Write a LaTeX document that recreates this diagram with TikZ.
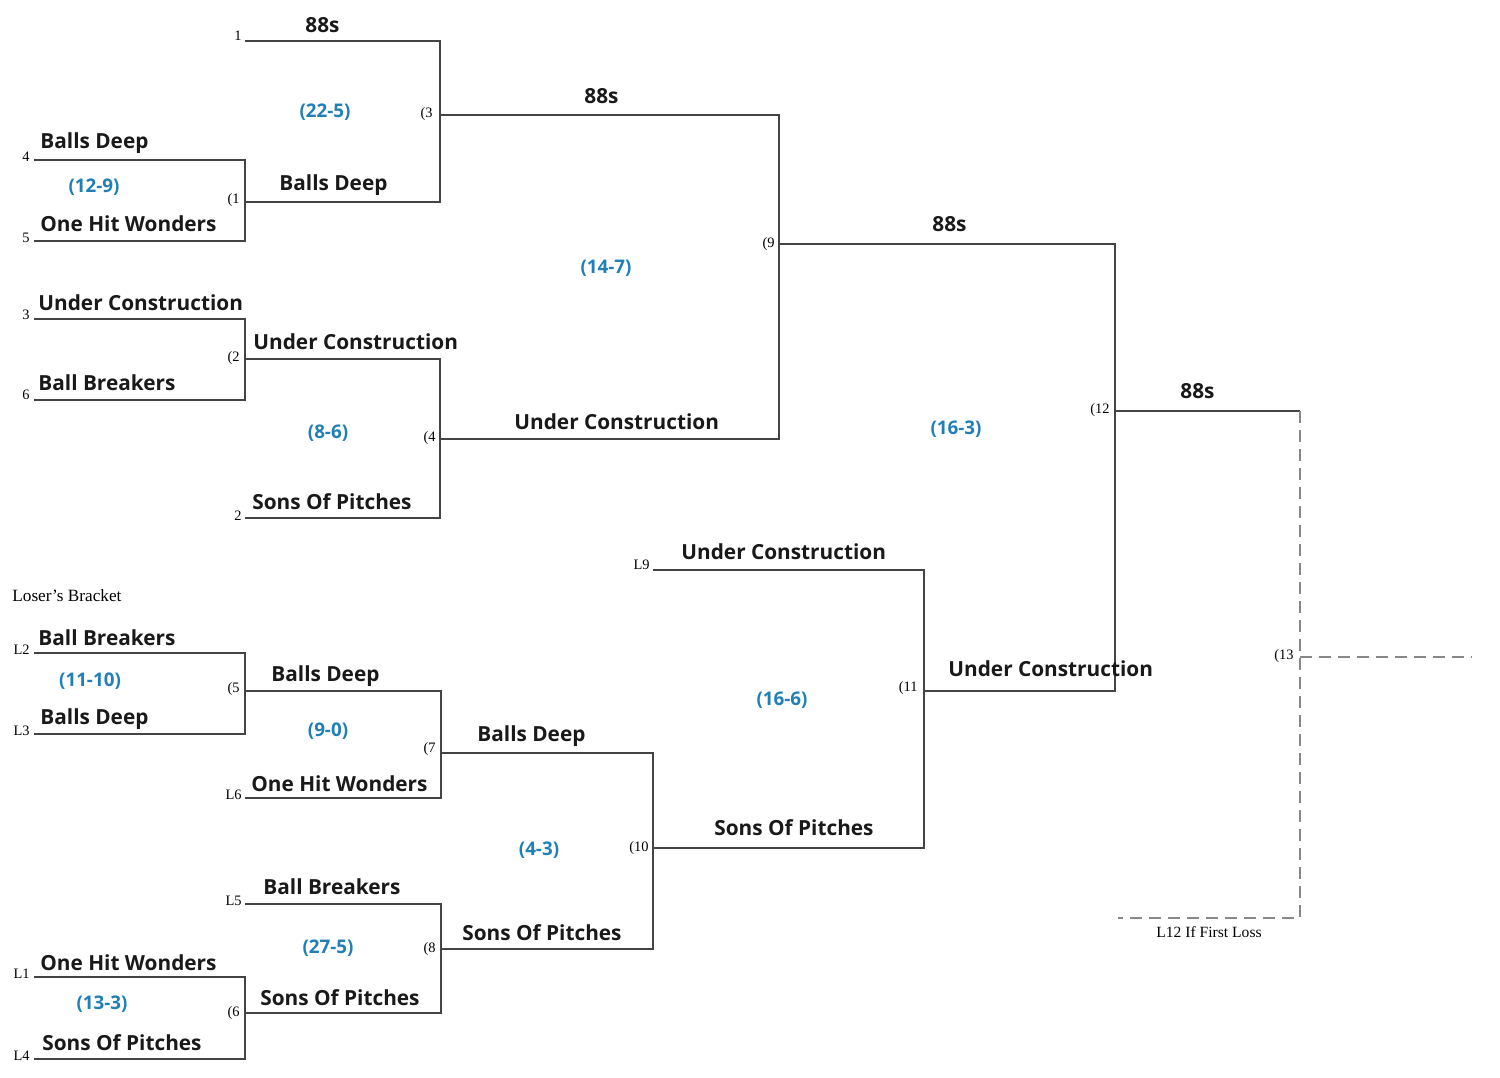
\documentclass[tikz,border=0pt]{standalone}
\usepackage{fontspec}
\setmainfont{Liberation Serif}
\newfontfamily\teamfont{Open Sans}
\definecolor{scoreblue}{HTML}{1F7FB6}
\definecolor{linegray}{HTML}{444444}
\definecolor{dashgray}{HTML}{888888}
\begin{document}
\begin{tikzpicture}[x=0.5pt,y=-0.5pt,
  team/.style={anchor=west,inner sep=0pt,yshift=-0.5pt,font=\teamfont\bfseries\fontsize{10.4}{12}\selectfont,text=black!90},
  score/.style={inner sep=0pt,yshift=-0.6pt,font=\teamfont\bfseries\fontsize{9.4}{11}\selectfont,text=scoreblue},
  seed/.style={anchor=east,inner sep=0pt,font=\fontsize{7.2}{8}\selectfont},
  bline/.style={draw=linegray,line width=0.55pt},
  dline/.style={draw=dashgray,line width=0.7pt,dash pattern=on 6pt off 3.5pt}]
\useasboundingbox (0,0) rectangle (1500,1077);
% ---------- winners bracket coordinates
\coordinate (s1a) at (245,41);   \coordinate (s1b) at (440,41);
\coordinate (s4a) at (34,160);   \coordinate (s4b) at (245,160);
\coordinate (s5a) at (34,241);   \coordinate (s5b) at (245,241);
\coordinate (g1a) at (245,202);  \coordinate (g1b) at (440,202);
\coordinate (g3a) at (440,115);  \coordinate (g3b) at (779,115);
\coordinate (s3a) at (34,319);   \coordinate (s3b) at (245,319);
\coordinate (s6a) at (34,400);   \coordinate (s6b) at (245,400);
\coordinate (g2a) at (245,359);  \coordinate (g2b) at (440,359);
\coordinate (s2a) at (245,518);  \coordinate (s2b) at (440,518);
\coordinate (g4a) at (440,439);  \coordinate (g4b) at (779,439);
\coordinate (g9a) at (779,244);  \coordinate (g9b) at (1115,244);
\coordinate (g12a) at (1115,411); \coordinate (g12b) at (1300,411);
\coordinate (g11a) at (924,691); \coordinate (g11b) at (1115,691);
% ---------- losers bracket coordinates
\coordinate (l2a) at (34,653);   \coordinate (l2b) at (245,653);
\coordinate (l3a) at (34,734);   \coordinate (l3b) at (245,734);
\coordinate (g5a) at (245,691);  \coordinate (g5b) at (441,691);
\coordinate (l6a) at (245,798);  \coordinate (l6b) at (441,798);
\coordinate (g7a) at (441,753);  \coordinate (g7b) at (653,753);
\coordinate (l5a) at (245,904);  \coordinate (l5b) at (441,904);
\coordinate (l1a) at (34,977);   \coordinate (l1b) at (245,977);
\coordinate (l4a) at (34,1059);  \coordinate (l4b) at (245,1059);
\coordinate (g6a) at (245,1013); \coordinate (g6b) at (441,1013);
\coordinate (g8a) at (441,949);  \coordinate (g8b) at (653,949);
\coordinate (g10a) at (653,848); \coordinate (g10b) at (924,848);
\coordinate (l9a) at (653,570);  \coordinate (l9b) at (924,570);
% dashed final
\coordinate (g13) at (1300,657); \coordinate (g13b) at (1472,657);
\coordinate (d1) at (1300,918);  \coordinate (d2) at (1118,918);
% ---------- lines
\draw[bline] (s1a) -- (s1b) -- (g1b) -- (g1a);
\draw[bline] (s4a) -- (s4b) -- (s5b) -- (s5a);
\draw[bline] (g3a) -- (g3b) -- (g4b) -- (g4a);
\draw[bline] (s3a) -- (s3b) -- (s6b) -- (s6a);
\draw[bline] (g2a) -- (g2b) -- (s2b) -- (s2a);
\draw[bline] (g9a) -- (g9b) -- (g11b) -- (g11a);
\draw[bline] (g12a) -- (g12b);
\draw[bline] (l2a) -- (l2b) -- (l3b) -- (l3a);
\draw[bline] (g5a) -- (g5b) -- (l6b) -- (l6a);
\draw[bline] (l1a) -- (l1b) -- (l4b) -- (l4a);
\draw[bline] (l5a) -- (l5b) -- (g6b) -- (g6a);
\draw[bline] (g7a) -- (g7b) -- (g8b) -- (g8a);
\draw[bline] (l9a) -- (l9b) -- (g10b) -- (g10a);
\draw[dline] (g12b) -- (d1) -- (d2);
\draw[dline] (g13) -- (g13b);
% ---------- team names
\node[team] (t1) at (305,24) {88s};
\node[team] (t2) at (40,142) {Balls Deep};
\node[team] (t3) at (40,223) {One Hit Wonders};
\node[team] (t4) at (279,184) {Balls Deep};
\node[team] (t5) at (584,95) {88s};
\node[team] (t6) at (38,302) {Under Construction};
\node[team] (t7) at (38,382) {Ball Breakers};
\node[team] (t8) at (253,341) {Under Construction};
\node[team] (t9) at (514,421) {Under Construction};
\node[team] (t10) at (252,501) {Sons Of Pitches};
\node[team] (t11) at (932,223) {88s};
\node[team] (t12) at (1180,390) {88s};
\node[team] (t13) at (681,551) {Under Construction};
\node[team] (t14) at (948,668) {Under Construction};
\node[team] (t15) at (714,827) {Sons Of Pitches};
\node[team] (t16) at (38,637) {Ball Breakers};
\node[team] (t17) at (40,718) {Balls Deep};
\node[team] (t18) at (271,675) {Balls Deep};
\node[team] (t19) at (251,783) {One Hit Wonders};
\node[team] (t20) at (477,735) {Balls Deep};
\node[team] (t21) at (263,886) {Ball Breakers};
\node[team] (t22) at (462,932) {Sons Of Pitches};
\node[team] (t23) at (40,962) {One Hit Wonders};
\node[team] (t24) at (260,997) {Sons Of Pitches};
\node[team] (t25) at (42,1042) {Sons Of Pitches};
% ---------- scores
\node[score] (c1) at (325,111) {(22-5)};
\node[score] (c2) at (94,186) {(12-9)};
\node[score] (c3) at (606,267) {(14-7)};
\node[score] (c4) at (328,432) {(8-6)};
\node[score] (c5) at (956,428) {(16-3)};
\node[score] (c6) at (90,680) {(11-10)};
\node[score] (c7) at (328,730) {(9-0)};
\node[score] (c8) at (782,699) {(16-6)};
\node[score] (c9) at (539,849) {(4-3)};
\node[score] (c10) at (328,947) {(27-5)};
\node[score] (c11) at (102,1003) {(13-3)};
% ---------- seeds / game numbers
\node[seed] (n1) at (242,36) {1};
\node[seed] (n4) at (30,157) {4};
\node[seed] (n5) at (30,238) {5};
\node[seed] (n3g) at (433,114) {(3};
\node[seed] (n1g) at (240,200) {(1};
\node[seed] (n3) at (30,315) {3};
\node[seed] (n6) at (30,395) {6};
\node[seed] (n2g) at (240,358) {(2};
\node[seed] (n4g) at (436,438) {(4};
\node[seed] (n2) at (242,516) {2};
\node[seed] (n9g) at (775,244) {(9};
\node[seed] (n12g) at (1110,410) {(12};
\node[seed] (n13g) at (1294,656) {(13};
\node[seed] (nl9) at (650,565) {L9};
\node[seed] (n11g) at (918,688) {(11};
\node[seed] (nl2) at (30,650) {L2};
\node[seed] (nl3) at (30,731) {L3};
\node[seed] (n5g) at (240,689) {(5};
\node[seed] (nl6) at (242,795) {L6};
\node[seed] (n7g) at (436,749) {(7};
\node[seed] (n10g) at (649,848) {(10};
\node[seed] (nl5) at (242,901) {L5};
\node[seed] (n8g) at (436,949) {(8};
\node[seed] (nl1) at (30,974) {L1};
\node[seed] (n6g) at (240,1013) {(6};
\node[seed] (nl4) at (30,1056) {L4};
\node[anchor=west,inner sep=0pt,font=\fontsize{8.6}{10}\selectfont] (lb) at (12,596) {Loser’s Bracket};
\node[inner sep=0pt,font=\fontsize{7.8}{9}\selectfont] (lf) at (1209,932) {L12 If First Loss};
\end{tikzpicture}
\end{document}
